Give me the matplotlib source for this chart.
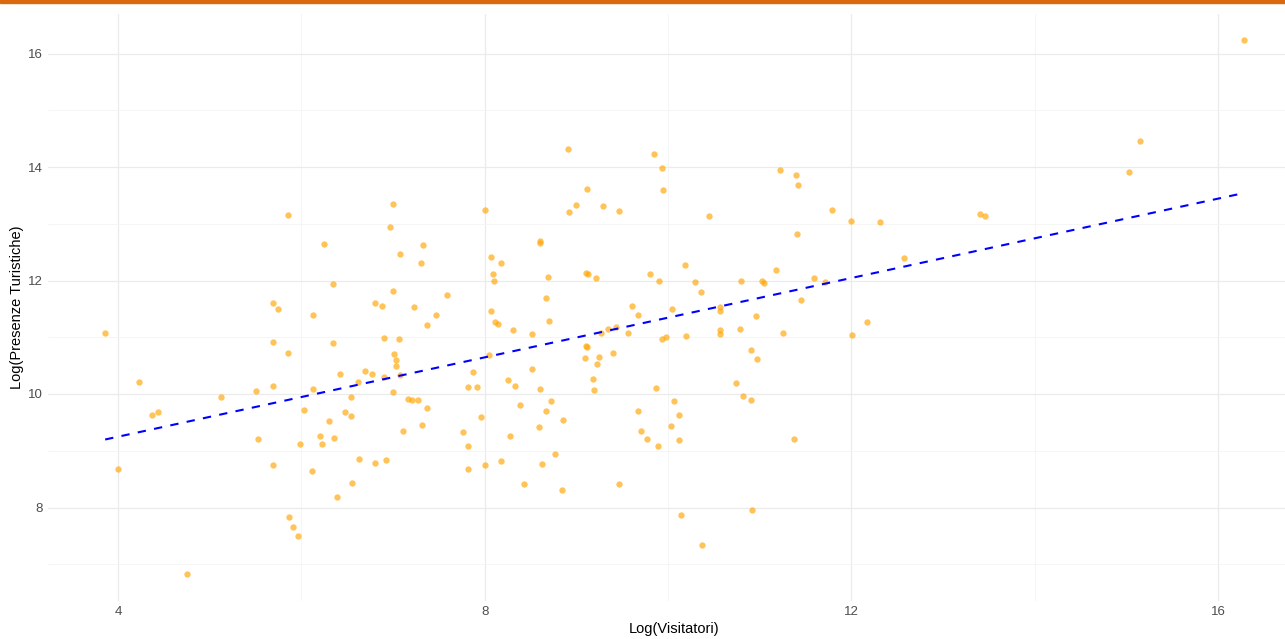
import numpy as np
import matplotlib
matplotlib.use('Agg')
import matplotlib.pyplot as plt
from matplotlib.patches import Rectangle

# dati: log visitatori / log presenze turistiche
log_visitatori = [
    3.86, 5.69, 5.75, 5.69, 5.85, 4.23, 5.12, 5.51, 5.69, 4.37, 4.44, 5.53, 4.00, 5.69, 5.87, 4.75,
    5.85, 7.00, 6.97, 6.25, 7.08, 7.33, 7.31, 6.35, 7.00, 7.59, 6.13, 6.80, 6.88, 7.23, 7.47, 7.37,
    6.34, 6.90, 7.07, 7.01, 7.03, 7.03, 6.42, 6.69, 6.77, 6.90, 7.08, 6.13, 6.62, 6.54, 7.00, 7.16,
    7.21, 7.27, 7.37, 6.03, 6.48, 6.54, 6.30, 7.11, 7.32, 5.98, 6.20, 6.22, 6.36, 6.63, 6.80, 6.92,
    6.12, 6.55, 6.39, 5.91, 5.96,
    8.91, 9.12, 9.00, 8.92, 9.29, 9.47, 8.00, 8.60, 8.60, 8.07, 8.18, 8.09, 8.10, 8.69, 9.10, 9.13,
    9.21, 8.67, 8.07, 8.11, 8.15, 8.31, 8.52, 8.70, 9.61, 9.67, 9.27, 9.34, 9.43, 9.56, 9.11, 9.12,
    8.05, 9.09, 9.25, 9.40, 9.22, 7.87, 8.52, 9.18, 9.19, 7.82, 7.92, 8.25, 8.33, 8.60, 8.72, 8.38,
    8.67, 8.85, 9.67, 7.96, 8.59, 7.76, 8.28, 7.82, 8.77, 7.82, 8.00, 8.18, 8.63, 8.43, 8.84, 9.47,
    9.85, 9.93, 9.95, 10.45, 11.22, 11.40, 11.42, 11.41, 10.19, 9.80, 9.90, 10.29, 10.36, 10.80,
    11.03, 11.05, 11.18, 11.59, 11.45, 10.04, 10.57, 10.57, 10.96, 9.93, 9.98, 10.20, 10.57, 10.57,
    10.79, 11.25, 10.90, 10.97, 10.74, 10.82, 10.90, 9.87, 10.07, 10.12, 10.03, 9.71, 9.77, 9.89,
    10.12, 11.37, 10.14, 10.92, 10.37,
    11.79, 12.00, 12.31, 13.40, 13.46, 12.57, 11.71, 12.17, 12.01, 15.15, 15.03, 16.28,
]
log_presenze = [
    11.07, 11.61, 11.49, 10.91, 10.73, 10.21, 9.95, 10.05, 10.14, 9.63, 9.68, 9.21, 8.67, 8.75, 7.84, 6.83,
    13.16, 13.35, 12.94, 12.64, 12.47, 12.63, 12.31, 11.94, 11.81, 11.74, 11.39, 11.60, 11.55, 11.53, 11.40, 11.22,
    10.89, 10.98, 10.97, 10.70, 10.60, 10.50, 10.36, 10.40, 10.36, 10.30, 10.33, 10.09, 10.22, 9.94, 10.04, 9.91,
    9.89, 9.89, 9.76, 9.71, 9.69, 9.61, 9.52, 9.35, 9.45, 9.12, 9.26, 9.12, 9.22, 8.85, 8.79, 8.83,
    8.64, 8.43, 8.19, 7.66, 7.50,
    14.31, 13.62, 13.33, 13.20, 13.32, 13.22, 13.25, 12.70, 12.66, 12.42, 12.31, 12.11, 11.99, 12.06, 12.13, 12.12,
    12.04, 11.69, 11.46, 11.26, 11.23, 11.13, 11.06, 11.28, 11.55, 11.40, 11.07, 11.15, 11.18, 11.08, 10.85, 10.83,
    10.69, 10.63, 10.65, 10.72, 10.53, 10.39, 10.44, 10.26, 10.07, 10.12, 10.12, 10.24, 10.14, 10.08, 9.87, 9.81,
    9.70, 9.54, 9.70, 9.59, 9.41, 9.33, 9.26, 9.09, 8.95, 8.67, 8.75, 8.82, 8.77, 8.41, 8.30, 8.41,
    14.23, 13.98, 13.59, 13.14, 13.94, 13.86, 13.69, 12.82, 12.27, 12.11, 11.99, 11.97, 11.80, 12.00,
    12.00, 11.95, 12.19, 12.05, 11.66, 11.49, 11.54, 11.46, 11.38, 10.97, 11.00, 11.02, 11.13, 11.05,
    11.14, 11.07, 10.78, 10.61, 10.19, 9.96, 9.89, 10.11, 9.87, 9.63, 9.44, 9.35, 9.21, 9.09,
    9.19, 9.21, 7.87, 7.96, 7.34,
    13.24, 13.05, 13.03, 13.17, 13.14, 12.40, 11.98, 11.27, 11.04, 14.46, 13.92, 16.23,
]
x_ticks = [4, 8, 12, 16]
y_ticks = [8, 10, 12, 14, 16]

x = np.array(log_visitatori)
y = np.array(log_presenze)

plt.rcParams['font.family'] = ['Liberation Sans', 'DejaVu Sans']
fig = plt.figure(figsize=(12.85, 6.39), dpi=100)

# limiti con espansione del 5% come ggplot
xr = x.max() - x.min()
yr = y.max() - y.min()
xlim = (x.min() - 0.05 * xr, x.max() + 0.05 * xr)
ylim = (y.min() - 0.05 * yr, y.max() + 0.05 * yr)

# scala in pixel: x=4 a 118px, 91.67 px/unità; y=10 a 394px, 56.75 px/unità
W, H = 1285, 639
left_px = 118 + (xlim[0] - 4) * 91.67
right_px = 118 + (xlim[1] - 4) * 91.67
top_px = 394 - (ylim[1] - 10) * 56.75
bot_px = 394 - (ylim[0] - 10) * 56.75
ax = fig.add_axes([left_px / W, 1 - bot_px / H, (right_px - left_px) / W, (bot_px - top_px) / H])
ax.set_xlim(xlim)
ax.set_ylim(ylim)

ax.scatter(x, y, s=21, color='#FFA500', alpha=0.65, linewidths=0, zorder=3)

# retta di regressione
b, a = np.polyfit(x, y, 1)
xs = np.array([x.min(), x.max()])
ax.plot(xs, a + b * xs, color='#0000FF', lw=1.5, ls=(0, (4, 4)), zorder=4)

ax.set_xticks(x_ticks)
ax.set_yticks(y_ticks)
ax.set_xticks([6, 10, 14], minor=True)
ax.set_yticks([7, 9, 11, 13, 15], minor=True)
ax.grid(which='major', color='#EBEBEB', lw=0.9)
ax.grid(which='minor', color='#F4F4F4', lw=0.6)
ax.set_axisbelow(True)
for s in ax.spines.values():
    s.set_visible(False)
ax.tick_params(which='both', length=0, labelsize=9.5, labelcolor='#4D4D4D')
ax.tick_params(axis='x', pad=4)
ax.tick_params(axis='y', pad=4)

ax.set_xlabel('Log(Visitatori)', fontsize=10.5, labelpad=3)
ax.set_ylabel('Log(Presenze Turistiche)', fontsize=10.5, labelpad=3)

# linea arancione in alto
fig.patches.append(Rectangle((0, 1 - 2.5 / H), 1, 2.5 / H, transform=fig.transFigure,
                             color='#D9680F', zorder=10))

fig.savefig('out.png', dpi=100)
